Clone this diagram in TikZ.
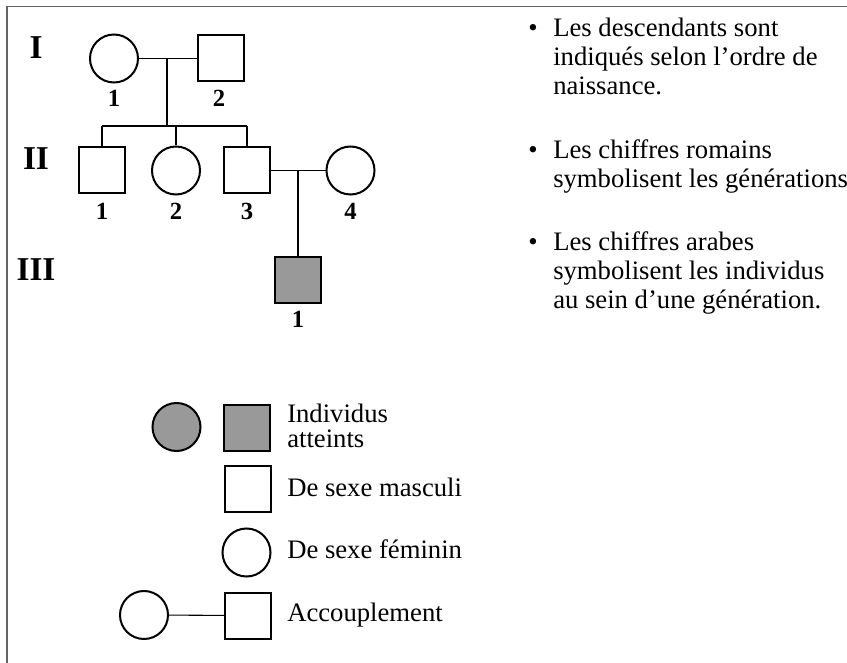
\documentclass[tikz,border=0pt]{standalone}
\usepackage{fontspec}
\setmainfont{Liberation Serif}
\definecolor{illgray}{RGB}{153,153,153}
\definecolor{framegray}{RGB}{100,100,100}

\begin{document}
\begin{tikzpicture}[x=0.75pt,y=-0.75pt,
  male/.style={draw,rectangle,inner sep=0pt,minimum size=34.5pt,line width=1.5pt},
  female/.style={draw,circle,inner sep=0pt,minimum size=36pt,line width=1.5pt},
  ill/.style={fill=illgray},
  num/.style={font=\bfseries\fontsize{18.5}{19}\selectfont,inner sep=0pt},
  gen/.style={font=\bfseries\fontsize{25}{26}\selectfont,inner sep=0pt},
  txt/.style={font=\fontsize{20}{21.75}\selectfont,align=left,inner sep=0pt,anchor=base west},
  leg/.style={txt,font=\fontsize{20}{18.5}\selectfont},
  link/.style={line width=0.8pt}]
\useasboundingbox (0,0) rectangle (847,663);
% frame
\draw[framegray,line width=1.1pt] (7,663) -- (7,6.5) -- (847,6.5);
% generations
\foreach \g/\y in {I/48,II/159,III/270}{
  \node[gen] (g\g) at (36,\y) {\g};
}
% drawing individuals
\node[female] (i1) at (114,58.5) {};
\node[male] (i2) at (220.5,58.5) {};
\node[male] (ii1) at (102,170.5) {};
\node[female] (ii2) at (176,170.5) {};
\node[male] (ii3) at (247,170.5) {};
\node[female] (ii4) at (350.5,170.5) {};
\node[male,ill] (iii1) at (298,280) {};
% numbers
\node[num] (li1) at (114,98) {1};
\node[num] (li2) at (219,98) {2};
\foreach \n/\x in {1/102,2/176,3/247,4/350.5}{
  \node[num] (lii\n) at (\x,211) {\n};
}
\node[num] (liii1) at (298,319) {1};
% drawing edges
\draw[link] (i1) -- (i2);
\coordinate (c1) at (167,58.5);
\coordinate (c0) at (167,126);
\draw[link] (c1) -- (c0);
\foreach \n/\x in {1/102,2/176,3/247}{
  \coordinate (d\n) at (\x,126);
  \draw[link] (d\n) -- (ii\n);
}
\draw[link] (d1) -- (d3);
\draw[link] (ii3) -- (ii4);
\coordinate (c2) at (298,170.5);
\draw[link] (c2) -- (iii1);
% remarks (base = last line)
\node[txt] (p1) at (553,94.5) {Les descendants sont\\indiqués selon l’ordre de\\naissance.};
\node[txt] (p2) at (553,187.5) {Les chiffres romains\\symbolisent les générations};
\node[txt] (p3) at (553,308.5) {Les chiffres arabes\\symbolisent les individus\\au sein d’une génération.};
\foreach \p/\y in {1/36.5,2/158.5,3/250.5}{
  \node[txt,anchor=base] (b\p) at (533,\y) {\textbullet};
}
% legend
\node[female,ill] (lgf) at (176.5,427) {};
\node[male,ill] (lgm) at (247,427.5) {};
\node[male] (lgmale) at (248,488.5) {};
\node[female] (lgfem) at (246.5,552.5) {};
\node[female] (lgc1) at (144,615) {};
\node[male] (lgc2) at (248,615.5) {};
\draw[link] (lgc1) -- (lgc2);
\node[leg] (tatt) at (287,447) {Individus\\atteints};
\node[leg] (tmale) at (287,496.7) {De sexe masculi};
\node[leg] (tfem) at (287,558) {De sexe féminin};
\node[leg] (tacc) at (287,621.7) {Accouplement};
\end{tikzpicture}
\end{document}
